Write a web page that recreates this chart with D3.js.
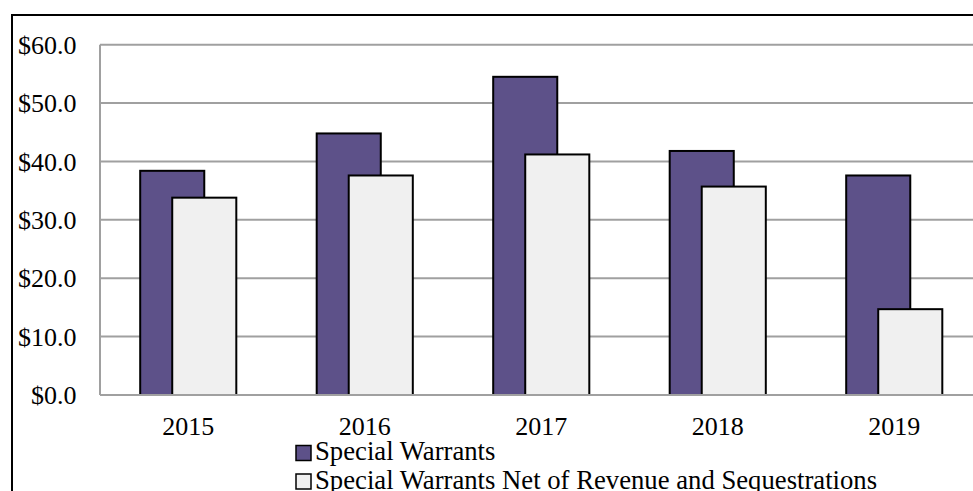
<!DOCTYPE html>
<html>
<head>
<meta charset="utf-8">
<script src="https://cdn.jsdelivr.net/npm/d3@7"></script>
<style>
  html, body { margin: 0; padding: 0; background: #fff; }
  svg { display: block; }
  text { font-family: "Liberation Serif", "Times New Roman", serif; fill: #000; }
</style>
</head>
<body>
<svg id="chart" width="973" height="491"></svg>
<script>
// Fiscal years and amounts ($ millions)
const years = ["2015", "2016", "2017", "2018", "2019"];
const specialWarrants = [38.4, 44.8, 54.5, 41.8, 37.6];
const netOfRevenue = [33.8, 37.6, 41.2, 35.7, 14.7];
const seriesNames = ["Special Warrants", "Special Warrants Net of Revenue and Sequestrations"];
const yTicks = [0, 10, 20, 30, 40, 50, 60];

const colors = ["#5D5189", "#F0F0F0"];

const svg = d3.select("#chart");

// outer chart frame
svg.append("rect")
  .attr("x", 12).attr("y", 15)
  .attr("width", 1000).attr("height", 520)
  .attr("fill", "none").attr("stroke", "#000").attr("stroke-width", 2);

const plot = { left: 100, right: 982.5, top: 44.7, bottom: 395 };

const x = d3.scaleBand().domain(years).range([plot.left, plot.right]).padding(0);
const y = d3.scaleLinear().domain([0, 60]).range([plot.bottom, plot.top]);

const bw = x.bandwidth() * 0.363;

// horizontal gridlines
svg.append("g")
  .selectAll("line")
  .data(yTicks.filter(t => t > 0))
  .join("line")
  .attr("x1", plot.left).attr("x2", plot.right)
  .attr("y1", d => y(d)).attr("y2", d => y(d))
  .attr("stroke", "#A0A0A0").attr("stroke-width", 2);

// y tick labels
svg.append("g")
  .selectAll("text")
  .data(yTicks)
  .join("text")
  .attr("x", 76.5)
  .attr("y", d => y(d))
  .attr("dy", "0.35em")
  .attr("text-anchor", "end")
  .style("font-size", "26px")
  .text(d => "$" + d.toFixed(1));

// bars: first series, then the second overlapping half of it
const series = [specialWarrants, netOfRevenue];
series.forEach((vals, si) => {
  svg.append("g")
    .selectAll("rect")
    .data(years.map((yr, i) => ({ yr, v: vals[i] })))
    .join("rect")
    .attr("x", d => x(d.yr) + x.bandwidth() / 2 - 0.75 * bw + si * 0.5 * bw)
    .attr("y", d => y(d.v))
    .attr("width", bw)
    .attr("height", d => y(0) - y(d.v))
    .attr("fill", colors[si])
    .attr("stroke", "#000")
    .attr("stroke-width", 2);
});

// value axis line and category axis line
svg.append("line")
  .attr("x1", plot.left).attr("x2", plot.left)
  .attr("y1", plot.top).attr("y2", plot.bottom)
  .attr("stroke", "#A0A0A0").attr("stroke-width", 2);
svg.append("line")
  .attr("x1", plot.left).attr("x2", plot.right)
  .attr("y1", plot.bottom).attr("y2", plot.bottom)
  .attr("stroke", "#A0A0A0").attr("stroke-width", 2);

// category labels
svg.append("g")
  .selectAll("text")
  .data(years)
  .join("text")
  .attr("x", d => x(d) + x.bandwidth() / 2)
  .attr("y", 435)
  .attr("text-anchor", "middle")
  .style("font-size", "26px")
  .text(d => d);

// legend
const legend = svg.append("g");
seriesNames.forEach((name, i) => {
  const baseY = 460 + i * 28.5;
  legend.append("rect")
    .attr("x", 296).attr("y", baseY - 14.5)
    .attr("width", 15).attr("height", 15)
    .attr("fill", colors[i]).attr("stroke", "#000").attr("stroke-width", 1.5);
  legend.append("text")
    .attr("x", 315).attr("y", baseY)
    .style("font-size", "26.7px")
    .text(name);
});
</script>
</body>
</html>
